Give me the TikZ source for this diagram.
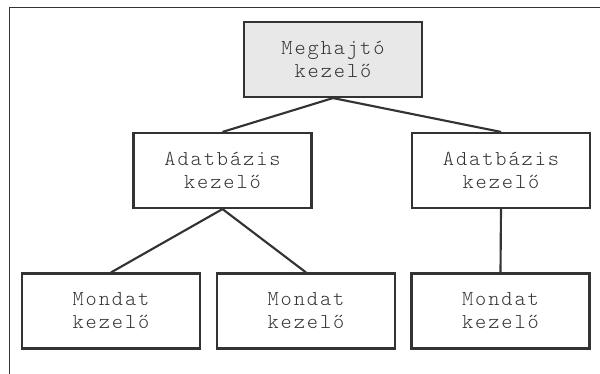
\documentclass[tikz,border=0pt]{standalone}
\usepackage{fontspec}
\setmonofont[LetterSpace=9]{Latin Modern Mono Light}
\definecolor{boxgray}{HTML}{E8E8E8}
\definecolor{inkgray}{HTML}{333333}
\begin{document}
\begin{tikzpicture}
        [x=0.75pt,y=-0.75pt,every node/.style={draw=inkgray, line width=1.6pt, rectangle, align=center, text=inkgray,
          minimum width=133.5pt, minimum height=56.25pt, inner sep=0pt,
          font=\ttfamily\fontsize{16}{17.2}\selectfont}]
      \useasboundingbox (0,0) rectangle (600,374);
      \draw[inkgray, line width=0.9pt] (600,7.5) -- (9.5,7.5) -- (9.5,374);

      \node[fill=boxgray] (drv) at (333,59.5) {Meghajtó\\kezelő};
      \node (db1) at (222.5,170.5) {Adatbázis\\kezelő};
      \node (db2) at (501,170.5) {Adatbázis\\kezelő};
      \node (md1) at (111,311) {Mondat\\kezelő};
      \node (md2) at (306,311) {Mondat\\kezelő};
      \node (md3) at (500.5,311) {Mondat\\kezelő};

      \foreach \from/\to in {drv/db1, drv/db2, db1/md1, db1/md2, db2/md3}
        \draw[inkgray, line width=1.6pt] (\from.south) -- (\to.north);
    \end{tikzpicture}
\end{document}
